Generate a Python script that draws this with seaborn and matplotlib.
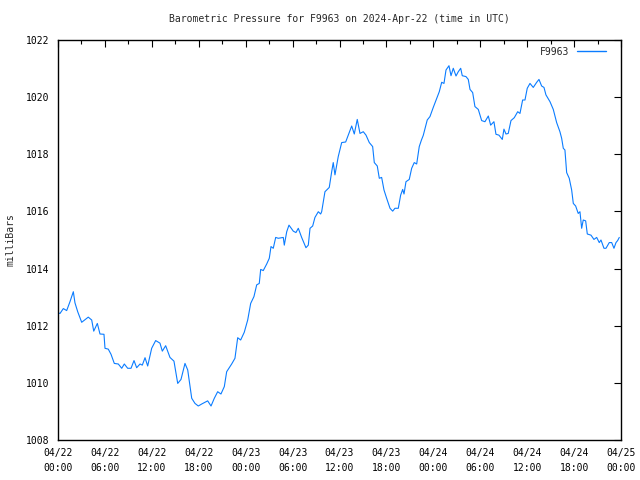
import matplotlib
matplotlib.use("Agg")
import matplotlib.pyplot as plt
import matplotlib.dates as mdates
import seaborn as sns
import pandas as pd
import numpy as np

hours = [0.0, 0.26, 0.68, 1.11, 1.53, 1.96, 2.17, 2.52, 3.03, 3.87, 4.31, 4.57, 5.03, 5.37, 5.88,
         6.01, 6.43, 6.78, 7.20, 7.71, 8.15, 8.48, 8.91, 9.34, 9.72, 10.06, 10.49, 10.78, 11.13,
         11.47, 11.98, 12.49, 13.04, 13.34, 13.77, 14.32, 14.83, 15.31, 15.73, 16.24, 16.59,
         17.10, 17.52, 17.94, 18.38, 19.14, 19.57, 19.99, 20.42, 20.84, 21.27, 21.57, 22.21,
         22.63, 22.98, 23.36, 23.82, 24.26, 24.64, 25.06, 25.41, 25.74, 25.92, 26.25, 26.69,
         27.02, 27.24, 27.53, 27.84, 28.17, 28.81, 28.94, 29.25, 29.54, 30.09, 30.43, 30.73,
         31.16, 31.71, 32.01, 32.23, 32.57, 32.86, 33.29, 33.59, 33.72, 34.14, 34.69, 35.00,
         35.20, 35.42, 35.84, 36.28, 36.79, 37.12, 37.56, 37.89, 38.27, 38.62, 39.04, 39.39,
         39.81, 40.24, 40.45, 40.83, 41.09, 41.39, 41.69, 42.03, 42.46, 42.80, 43.09, 43.52,
         43.82, 44.08, 44.25, 44.50, 44.92, 45.23, 45.56, 45.87, 46.20, 46.48, 46.71, 47.22,
         47.57, 47.99, 48.43, 48.76, 49.07, 49.36, 49.62, 50.00, 50.26, 50.55, 50.90, 51.19,
         51.50, 51.70, 52.17, 52.47, 52.69, 53.03, 53.32, 53.75, 54.18, 54.60, 55.03, 55.33,
         55.75, 56.01, 56.39, 56.82, 57.03, 57.29, 57.58, 57.93, 58.35, 58.79, 59.08, 59.42,
         59.72, 60.01, 60.36, 60.78, 61.22, 61.51, 61.85, 62.15, 62.40, 62.92, 63.34, 63.77,
         64.19, 64.41, 64.62, 64.83, 65.05, 65.38, 65.69, 65.90, 66.20, 66.53, 66.75, 66.97,
         67.17, 67.48, 67.69, 68.16, 68.54, 68.89, 69.22, 69.44, 69.82, 70.08, 70.50, 70.81,
         71.10, 71.36, 71.57, 71.78]

pressure = [1012.45, 1012.43, 1012.60, 1012.53, 1012.84, 1013.19, 1012.80, 1012.49, 1012.12, 1012.30,
            1012.20, 1011.81, 1012.08, 1011.71, 1011.70, 1011.21, 1011.18, 1011.00, 1010.68, 1010.66,
            1010.51, 1010.66, 1010.51, 1010.51, 1010.78, 1010.53, 1010.66, 1010.62, 1010.88, 1010.59,
            1011.21, 1011.48, 1011.39, 1011.11, 1011.30, 1010.89, 1010.76, 1009.98, 1010.12, 1010.68,
            1010.45, 1009.46, 1009.28, 1009.19, 1009.26, 1009.37, 1009.19, 1009.46, 1009.69, 1009.61,
            1009.87, 1010.39, 1010.66, 1010.86, 1011.58, 1011.50, 1011.77, 1012.20, 1012.78, 1013.02,
            1013.43, 1013.48, 1013.97, 1013.93, 1014.16, 1014.36, 1014.77, 1014.71, 1015.09, 1015.06,
            1015.09, 1014.82, 1015.29, 1015.52, 1015.31, 1015.26, 1015.41, 1015.09, 1014.73, 1014.82,
            1015.41, 1015.49, 1015.79, 1015.99, 1015.91, 1015.99, 1016.69, 1016.84, 1017.39, 1017.71,
            1017.28, 1017.92, 1018.41, 1018.43, 1018.67, 1018.99, 1018.71, 1019.22, 1018.73, 1018.79,
            1018.67, 1018.41, 1018.27, 1017.71, 1017.59, 1017.16, 1017.19, 1016.75, 1016.46, 1016.11,
            1016.01, 1016.11, 1016.11, 1016.57, 1016.77, 1016.61, 1017.04, 1017.12, 1017.51, 1017.71,
            1017.66, 1018.27, 1018.50, 1018.66, 1019.20, 1019.32, 1019.64, 1019.96, 1020.19, 1020.52,
            1020.48, 1020.95, 1021.10, 1020.75, 1021.01, 1020.74, 1020.89, 1021.01, 1020.75, 1020.72,
            1020.62, 1020.27, 1020.16, 1019.67, 1019.57, 1019.18, 1019.14, 1019.34, 1019.02, 1019.14,
            1018.70, 1018.67, 1018.52, 1018.88, 1018.71, 1018.73, 1019.18, 1019.28, 1019.49, 1019.43,
            1019.90, 1019.90, 1020.31, 1020.48, 1020.34, 1020.52, 1020.62, 1020.39, 1020.34, 1020.08,
            1019.84, 1019.57, 1019.11, 1018.79, 1018.56, 1018.21, 1018.15, 1017.36, 1017.16, 1016.75,
            1016.28, 1016.19, 1015.93, 1015.99, 1015.41, 1015.70, 1015.67, 1015.21, 1015.17, 1015.02,
            1015.09, 1014.91, 1015.00, 1014.71, 1014.71, 1014.91, 1014.91, 1014.71, 1014.91, 1014.98,
            1015.09]

station = "F9963"
title = "Barometric Pressure for F9963 on 2024-Apr-22 (time in UTC)"
ylabel = "milliBars"
start = pd.Timestamp("2024-04-22 00:00")
end = pd.Timestamp("2024-04-25 00:00")

df = pd.DataFrame({
    "time": start + pd.to_timedelta(hours, unit="h"),
    "pressure": pressure,
    "station": station,
})

sns.set_style("white")
plt.rcParams["font.family"] = ["DejaVu Sans Mono"]
plt.rcParams["font.size"] = 7

fig = plt.figure(figsize=(6.4, 4.8), dpi=100)
ax = fig.add_axes([58 / 640, 40 / 480, 563 / 640, 400 / 480])

sns.lineplot(data=df, x="time", y="pressure", hue="station", palette=["#0a7cff"],
             linewidth=0.8, ax=ax)

ax.set_xlim(start, end)
ax.set_ylim(1008, 1022)
ax.set_yticks(np.arange(1008, 1023, 2))
ax.xaxis.set_major_locator(mdates.HourLocator(byhour=[0, 6, 12, 18]))
ax.xaxis.set_minor_locator(mdates.HourLocator(byhour=[3, 9, 15, 21]))
ax.xaxis.set_major_formatter(mdates.DateFormatter("%m/%d\n%H:%M"))

ax.tick_params(which="both", direction="in", top=True, right=True, colors="black",
               labelsize=7, pad=6)
ax.tick_params(which="major", length=5, width=0.8)
ax.tick_params(which="minor", length=3, width=0.8)
for lab in ax.get_xticklabels():
    lab.set_linespacing(1.6)
for s in ax.spines.values():
    s.set_color("black")
    s.set_linewidth(1.0)

ax.set_xlabel("")
ax.set_ylabel(ylabel, fontsize=7, labelpad=8)
fig.text(339.5 / 640, 1 - 19 / 480, title, ha="center", va="center", fontsize=7)

handles, labels = ax.get_legend_handles_labels()
if ax.get_legend() is not None:
    ax.get_legend().remove()
for h in handles:
    h.set_linewidth(1.0)
ax.legend(handles, labels, loc="upper right", bbox_to_anchor=(1 - 8 / 563, 1.0),
          frameon=False, fontsize=7, handlelength=3.0,
          handletextpad=0.8, borderaxespad=0.3, markerfirst=False)

fig.savefig("out.png", dpi=100)
